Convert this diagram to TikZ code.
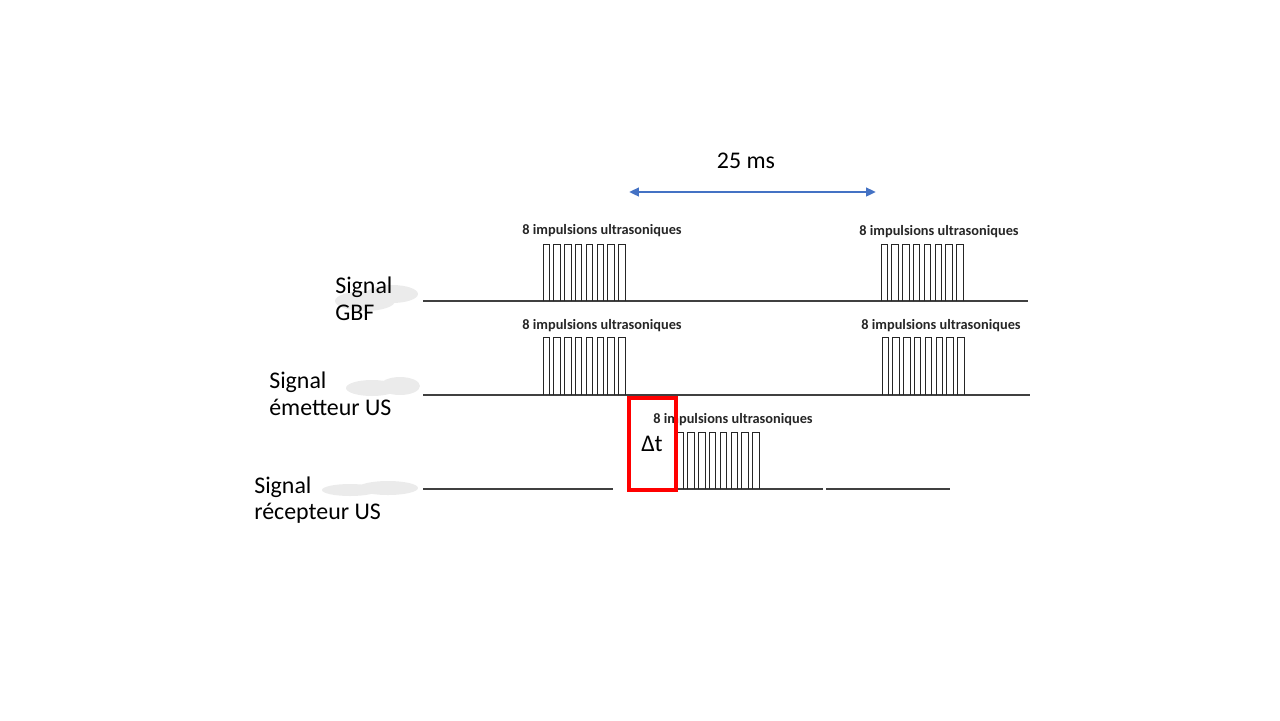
\documentclass[tikz,border=0pt]{standalone}
\usepackage{fontspec}
\setmainfont{Carlito}
\usetikzlibrary{arrows.meta}
\definecolor{sigline}{HTML}{404040}
\definecolor{dtblue}{HTML}{4472C4}
\definecolor{dtred}{HTML}{FF0000}
\definecolor{smudge}{HTML}{EBEBEB}
\tikzset{
  % ligne de base d'un signal
  sigbase/.style={line width=1pt, sigline},
  % une impulsion
  pulse/.style={line width=0.6pt, black!85},
  % textes
  burstlbl/.style={font=\fontsize{10.2}{12}\selectfont\bfseries, text=black!85, inner sep=0pt},
  siglbl/.style={font=\fontsize{17}{19}\selectfont, align=left, anchor=west, inner sep=0pt},
  biglbl/.style={font=\fontsize{17}{20}\selectfont, inner sep=0pt},
  % fleche de duree
  duree/.style={dtblue, line width=2pt,
    {Triangle[length=7pt, width=6pt]}-{Triangle[length=7pt, width=6pt]}},
  dtbox/.style={dtred, line width=2.2pt},
  blot/.style={smudge},
}
\begin{document}
\begin{tikzpicture}[x=0.25mm, y=-0.25mm]
  \useasboundingbox (0,0) rectangle (1280,720);
  % traces effacees
  \fill[blot] (365,301) ellipse (30 and 10);
  \fill[blot] (392,294) ellipse (26 and 9);
  \fill[blot] (372,388) ellipse (26 and 8);
  \fill[blot] (400,386) ellipse (20 and 9);
  \fill[blot] (350,490) ellipse (28 and 6);
  \fill[blot] (388,488) ellipse (30 and 7);
  % libelles des signaux
  \node[siglbl] (gbf) at (335,299) {Signal\\GBF};
  \node[siglbl] (emet) at (269,394) {Signal\\émetteur US};
  \node[siglbl] (recep) at (254,500) {Signal\\récepteur US};
  % lignes de base
  \draw[sigbase] (423,301) -- (1028,301);
  \draw[sigbase] (423,395) -- (1030,395);
  \draw[sigbase] (423,489) -- (613,489) (628,489) -- (823,489) (826,489) -- (950,489);
  % salves de 8 impulsions
  \foreach \x/\b/\t in {543/301/244, 881/301/244, 543/395/337, 882/395/337, 677/489/432} {
    \foreach \k in {0,...,7}
      \draw[pulse] ({\x+\k*10.8},\b) |- ({\x+\k*10.8+6.5},\t) -- ({\x+\k*10.8+6.5},\b);
  }
  \foreach \x/\y [count=\i] in {602/231, 939/232, 602/326, 941/326, 733/420}
    \node[burstlbl] (imp\i) at (\x,\y) {8 impulsions ultrasoniques};
  % retard
  \draw[dtbox] (629,398) rectangle (676,490);
  \node[biglbl] (dt) at (652,444) {Δt};
  % periode
  \coordinate (p1) at (629,192);
  \coordinate (p2) at (876,192);
  \draw[duree] (p1) -- (p2);
  \node[biglbl] (per) at (746,161) {25 ms};
\end{tikzpicture}
\end{document}
